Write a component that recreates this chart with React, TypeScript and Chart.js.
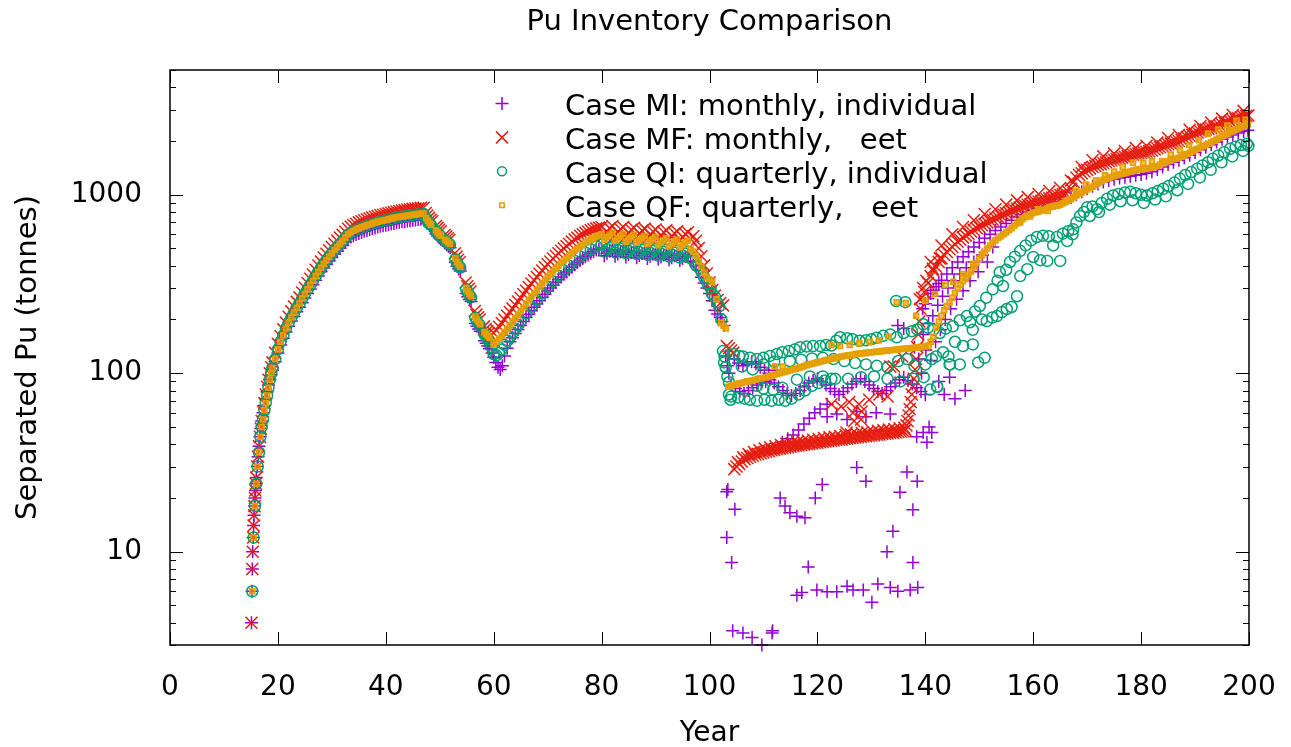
import React, { useEffect, useRef } from 'react';
import { Chart, registerables } from 'chart.js';

Chart.register(...registerables);

const chartTitle = 'Pu Inventory Comparison';
const xAxisTitle = 'Year';
const yAxisTitle = 'Separated Pu (tonnes)';
const legendLabels = [
  'Case MI: monthly, individual',
  'Case MF: monthly,   eet',
  'Case QI: quarterly, individual',
  'Case QF: quarterly,   eet',
];
const xTickValues = [0, 20, 40, 60, 80, 100, 120, 140, 160, 180, 200];
const yTickValues = [10, 100, 1000];

// Case MI: monthly, individual  [year, tonnes]
const miPoints: [number, number][] = [
  [15.1,4],[15.2,6],[15.25,8],[15.33,10],[15.42,12],[15.5,14],[15.58,16],[15.67,18],[15.75,20],[15.83,22],[15.92,24],[16,26],[16.17,30],[16.33,34],[16.5,39],[16.67,44],[16.83,49],[17,54],[17.25,60],[17.5,66],[17.75,72],[18,79],[18.25,86],[18.5,92],[18.75,98],
  [19,104],[19.5,116],[20,130],[20.5,144],[21,157],[21.5,170],[22,183],[22.5,196],[23,208],[23.5,221],[24,234],[24.5,248],[25,264],[25.5,280],[26,296],[26.5,313],[27,332],[27.5,350],[28,370],[28.5,389],[29,407],[29.5,426],[30,445],[30.5,465],[31,483],[31.5,502],[32,520],[32.5,543],[33,566],[33.5,580],[34,590],[34.5,598],[35,607],[35.5,615],[36,624],[36.5,631],[37,638],[37.5,645],[38,652],[38.5,659],[39,665],[39.5,670],[40,675],[40.5,680],[41,685],[41.5,691],[42,697],[42.5,701],[43,705],[43.5,708],[44,712],[44.5,716],[45,720],[45.5,723],[46,727],[46.5,729],[47,732],
  [47.5,712],[47.8,690],[48.1,670],[48.4,655],[48.7,642],[49.3,602],[49.6,588],[49.9,575],[50.2,565],[51,535],[51.3,525],[51.6,515],[51.9,505],[52.9,418],[53.2,398],[53.5,384],[53.8,374],[54.9,280],[55.2,268],[55.5,259],[55.8,252],[56.6,190],[56.9,183],[57.2,177],[57.5,172],[58.3,152],[58.6,147],[58.9,142],[59.2,137],[59.7,130],[60,123],[60.4,115],[60.8,108],[61.2,105],[61.6,110],[62,125],[62.5,138],
  [63,150],[63.5,158],[64,167],[64.5,176],[65,185],[65.5,195],[66,205],[66.5,214],[67,224],[67.5,234],[68,244],[68.5,255],[69,266],[69.5,277],[70,289],[70.5,300],[71,311],[71.5,323],[72,335],[72.5,346],[73,358],[73.5,369],[74,380],[74.5,392],[75,405],[75.5,416],[76,428],[76.5,439],[77,450],[77.5,460],[78,470],[78.5,480],[79,490],[79.5,496],[80,502],
  [80.5,455],[81,470],[81.5,482],[82,492],[82.5,452],[83,466],[83.5,478],[84,488],[84.5,448],[85,462],[85.5,474],[86,484],[86.5,444],[87,457],[87.5,469],[88,480],[88.5,440],[89,452],[89.5,464],[90,475],[90.5,436],[91,448],[91.5,460],[92,470],[92.5,432],[93,444],[93.5,455],[94,466],[94.5,428],[95,440],[95.5,451],[96,462],[96.5,424],[97,420],
  [97.5,400],[98,380],[98.5,345],[99,320],[99.5,300],[100,280],[100.5,255],[101,225],[101.5,215],[102,205],[102.3,195],[102.7,185],[103,125],[103.3,110],[103.6,100],
  [104.6,120],[105.4,114],[106.2,110],[107,112],[107.8,116],[108.6,113],[109.4,108],[110.2,104],[111,100],[112,104],[134.9,185],[136,178],
  [104,86],[104.8,82],[105.6,79],[106.4,77],[107.2,80],[108,83],[108.8,86],[109.6,88],[110.4,90],[111.2,92],[112,88],[112.8,84],[113.6,80],[114.4,77],[115.2,75],[116,77],[116.8,80],[117.6,84],[118.4,88],[119.2,91],[120,93],[120.8,90],[121.6,86],[122.4,82],[123.2,79],[124,76],[124.8,79],[125.6,83],[126.4,87],[127.2,90],[128,93],[128.8,90],[129.6,86],[130.4,82],[131.2,79],[132,77],[132.8,80],[133.6,84],[134.4,88],[135.2,92],[136,95],[136.8,91],[137.6,87],[138.4,83],[139.2,79],[140,76],
  [113.5,41],[114.5,43],[115.5,45],[116.5,48],[117.5,52],[118.5,56],[119.5,60],[120.5,63],[121.8,67],[121.8,57],[123.6,59],[125.5,55],[127.3,61],[129,57],[130.9,60],[133.5,59],[138.4,44],[139.6,46.5],[140.7,50],[141.2,46.5],[140.3,41],
  [103.2,21.7],[103.4,22.3],[104.7,17.3],[103.2,12],[104.1,8.7],[104.3,3.6],[106.2,3.5],[107.9,3.3],[109.7,3.0],[111.6,3.5],[111.7,3.6],[113.1,20],[114,18],[114.9,16.5],[116.2,15.8],[117.7,15.5],[119.6,20],[120.9,23.8],[118.3,8.2],[116.2,5.7],[117.1,5.9],[119.9,6.1],[121.8,5.96],[123.6,5.96],[125.5,6.4],[126.6,6.1],[128.5,6.1],[130.1,5.2],[131.2,6.6],[133.5,6.3],[134.9,6.0],[137.2,6.1],[138.6,6.3],[127.3,29.6],[129,24.8],[132.9,10],[134,13],[135.3,21.5],[136.6,28],[138.5,24.8],[137.7,17.2],[137.7,8.7],
  [138,140],[138.8,120],[139.3,100],[139.6,165],[140.1,135],[140.6,190],[141,118],[141.4,210],[141.9,150],[142.3,240],[142.8,175],[143.2,270],[143.7,200],[144.2,300],[144.7,230],[145.3,330],[145.8,260],[146.4,360],[147,290],[147.6,390],[148.3,330],[149,420],[149.8,370],[150.6,460],[151.5,420],[152.5,510],[142.5,90],[143.5,76],[144.5,95],[145.5,72],[147.4,80],
  [139.5,230],[140,245],[140.5,262],[141,280],[141.5,292],[142,305],[142.5,318],[143,332],[144,360],[145,390],[146,420],[147,450],[148,480],[149,510],[150,540],[151,570],[152,600],[153,630],[154,660],[155,690],[156,720],[157,750],[158,775],[159,798],[160,818],[161,838],[162,858],[163,878],[164,898],[165,918],[166,940],[167,965],[168,1000],[169,1040],[170,1080],[171,1115],[172,1150],[173,1180],[174,1200],[175,1220],[176,1240],[177,1255],[178,1270],[179,1285],[180,1300],[181,1320],[182,1345],[183,1385],[184,1430],[185,1475],[186,1520],[187,1560],[188,1610],[189,1665],[190,1725],[191,1785],[192,1845],[193,1905],[194,1975],[195,2045],[196,2105],[197,2165],[198,2215],[199,2265],[199.8,2300],
];

// Case MF: monthly, fleet
const mfPoints: [number, number][] = [
  [15.1,4],[15.25,8],[15.33,10],[15.42,12],[15.5,14],[15.58,16],[15.67,18],[15.75,20],[15.83,22],[15.92,24],[16,26],[16.17,30],[16.33,34],[16.5,39],[16.67,44],[16.83,49],[17,54],[17.25,61],[17.5,68],[17.75,76],[18,84],[18.25,92],[18.5,100],[18.75,108],
  [19,115],[19.5,130],[20,146],[20.5,161],[21,176],[21.5,192],[22,207],[22.5,222],[23,236],[23.5,251],[24,266],[24.5,283],[25,301],[25.5,320],[26,338],[26.5,357],[27,380],[27.5,401],[28,422],[28.5,445],[29,467],[29.5,488],[30,510],[30.5,531],[31,553],[31.5,575],[32,596],[32.5,621],[33,645],[33.5,662],[34,676],[34.5,688],[35,700],[35.5,710],[36,719],[36.5,728],[37,736],[37.5,744],[38,752],[38.5,760],[39,767],[39.5,773],[40,780],[40.5,786],[41,792],[41.5,799],[42,806],[42.5,811],[43,815],[43.5,820],[44,826],[44.5,830],[45,833],[45.5,837],[46,841],[46.5,844],[47,846],
  [47.4,790],[47.7,765],[48,742],[48.3,725],[48.6,710],[49.3,668],[49.6,652],[49.9,637],[50.2,624],[50.9,595],[51.2,583],[51.5,571],[51.8,560],[52.8,470],[53.1,449],[53.4,432],[53.7,419],[54.8,322],[55.1,307],[55.4,297],[55.7,287],[56.5,223],[56.8,213],[57.1,206],[57.4,200],[58.2,183],[58.5,177],[58.8,172],[59.1,168],[59.5,163],
  [60,168],[60.5,174],[61,182],[61.5,191],[62,200],[62.5,210],[63,220],[63.5,230],[64,241],[64.5,252],[65,264],[65.5,277],[66,290],[66.5,304],[67,318],[67.5,332],[68,346],[68.5,361],[69,376],[69.5,392],[70,408],[70.5,423],[71,439],[71.5,455],[72,470],[72.5,485],[73,500],[73.5,515],[74,530],[74.5,546],[75,562],[75.5,575],[76,589],[76.5,601],[77,612],[77.5,622],[78,632],[78.5,640],[79,648],[79.5,654],[80,660],
  [80.5,595],[81,622],[81.5,650],[82,668],[82.5,590],[83,617],[83.5,643],[84,660],[84.5,585],[85,611],[85.5,637],[86,653],[86.5,579],[87,605],[87.5,630],[88,646],[88.5,573],[89,598],[89.5,623],[90,639],[90.5,567],[91,592],[91.5,616],[92,632],[92.5,561],[93,585],[93.5,609],[94,625],[94.5,555],[95,579],[95.5,602],[96,617],[96.5,565],
  [97,585],[97.5,552],[98,502],[98.5,452],[99,402],[99.5,362],[100,322],[100.5,292],[101,272],[101.5,257],[102,247],[102.5,240],[103.2,142],[103.6,138],[104,134],[104.4,130],
  [104.6,29],[105,30],[105.5,31],[106,32],[106.5,33],[107,33.5],[107.5,34],[108,34.5],[108.5,35],[109,35.3],[109.5,35.6],[110,36],[110.5,36.3],[111,36.6],[111.5,37],[112,37.2],[112.5,37.5],[113,37.8],[113.5,38],[114,38.3],[114.5,38.5],[115,38.7],[115.5,39],[116,39.2],[116.5,39.4],[117,39.6],[117.5,39.8],[118,40],[118.5,40.2],[119,40.4],[119.5,40.6],[120,40.8],[120.5,41],[121,41.2],[121.5,41.4],[122,41.6],[122.5,41.8],[123,42],[123.5,42.2],[124,42.4],[124.5,42.6],[125,42.8],[125.5,43],[126,43.2],[126.5,43.4],[127,43.6],[127.5,43.8],[128,44],[128.5,44.2],[129,44.4],[129.5,44.6],[130,44.8],[130.5,45],[131,45.2],[131.5,45.4],[132,45.6],[132.5,45.8],[133,46],[133.5,46.2],[134,46.4],[134.5,46.6],[135,46.8],[135.5,47],[136,47.2],
  [105.25,31.8],[106.25,33.8],[107.25,35.2],[108.25,36.2],[109.25,37],[110.25,37.8],[111.25,38.4],[112.25,39],[113.25,39.6],[114.25,40.2],[115.25,40.6],[116.25,41.1],[117.25,41.6],[118.25,42],[119.25,42.4],[120.25,42.8],[121.25,43.3],[122.25,43.7],[123.25,44.1],[124.25,44.5],[125.25,45],[126.25,45.4],[127.25,45.8],[128.25,46.2],[129.25,46.6],[130.25,47.1],[131.25,47.5],[132.25,47.9],[133.25,48.3],[134.25,48.7],[135.25,49.1],[136.1,49.5],
  [136.3,48],[136.5,51],[136.7,54],[136.9,58],[137.1,63],[137.3,69],[137.5,76],[137.7,84],[137.9,93],[138.1,105],[138.3,120],[138.5,140],[138.7,165],[138.9,195],[139.1,230],[139.4,265],
  [122.6,67],[124.4,65],[125.9,69],[127.7,67],[128.2,61],[128.1,55],[129.6,71],[131.5,76],[133,74],[134.2,109],[135.7,124],[133.5,109],[126.6,60],[126.8,54],[125.4,46.5],
  [139,260],[139.6,300],[140.2,330],[141.4,385],[142.7,440],
  [139.8,285],[140.5,320],[141,350],[141.5,375],[142,395],[142.5,420],[143,440],[143.5,460],[144,478],[144.5,495],[145,510],[145.5,528],[146,545],[146.5,560],[147,575],[147.5,590],[148,605],[148.5,620],[149,635],[149.5,650],[150,662],[150.5,675],[151,688],[151.5,700],[152,712],[152.5,725],[153,738],[153.5,750],[154,762],[154.5,775],[155,788],[155.5,800],[156,812],[156.5,824],[157,836],[157.5,848],[158,858],[158.5,868],[159,878],[159.5,888],[160,898],[160.5,907],[161,916],[161.5,925],[162,934],[162.5,944],[163,954],[163.5,964],[164,975],[164.5,986],[165,997],[165.5,1008],[166,1020],[166.5,1040],[167,1080],[167.5,1180],[168,1250],[168.5,1290],[169,1320],[169.5,1350],[170,1380],[170.5,1405],[171,1430],[171.5,1450],[172,1470],[172.5,1485],[173,1500],[173.5,1520],[174,1540],[174.5,1555],[175,1570],[175.5,1585],[176,1600],[176.5,1615],[177,1630],[177.5,1645],[178,1660],[178.5,1675],[179,1690],[179.5,1705],[180,1720],[180.5,1730],[181,1740],[181.5,1755],[182,1770],[182.5,1795],[183,1820],[183.5,1845],[184,1870],[184.5,1895],[185,1920],[185.5,1940],[186,1960],[186.5,1980],[187,2000],[187.5,2035],[188,2070],[188.5,2105],[189,2140],[189.5,2170],[190,2200],[190.5,2230],[191,2260],[191.5,2290],[192,2320],[192.5,2340],[193,2360],[193.5,2390],[194,2420],[194.5,2450],[195,2480],[195.5,2515],[196,2550],[196.5,2585],[197,2620],[197.5,2650],[198,2680],[198.5,2710],[199,2740],[199.5,2765],[199.9,2780],
  [141,420],[143,520],[145,600],[147,660],[149,720],[151,780],[153,830],[155,880],[157,930],[159,970],[161,1010],[163,1050],[165,1090],[167,1200],[169,1430],[171,1560],[173,1640],[175,1700],[177,1760],[179,1830],[181,1880],[183,1960],[185,2080],[187,2160],[189,2310],[191,2430],[193,2540],[195,2670],[197,2800],[199,2950],
];

// Case QI: quarterly, individual
const qiPoints: [number, number][] = [
  [15.25,6],[15.5,12],[15.75,18],[16,24],[16.25,30],[16.5,36],[16.75,44],[17,50],[17.25,55],[17.5,62],[17.75,68],[18,75],[18.25,83],[18.5,92],[18.75,100],[19,107],[19.5,120],[20,136],[20.5,150],[21,163],[21.5,178],[22,192],[22.5,205],[23,218],[23.5,232],[24,246],[24.5,262],[25,278],[25.5,295],[26,312],[26.5,330],[27,350],[27.5,370],[28,390],[28.5,410],[29,430],[29.5,450],[30,470],[30.5,490],[31,510],[31.5,530],[32,550],[32.5,575],[33,598],[34,625],[35,645],[36,662],[37,678],[38,694],[39,708],[40,718],[41,730],[42,744],[43,752],[44,760],[45,768],[46,776],[47,780],
  [47.5,735],[47.8,712],[48.1,692],[48.4,676],[49.3,625],[49.6,610],[49.9,596],[50.2,585],[51,555],[51.3,545],[51.6,535],[51.9,525],[52.9,435],[53.2,415],[53.5,400],[53.8,390],[54.9,296],[55.2,284],[55.5,274],[55.8,266],[56.6,204],[56.9,196],[57.2,189],[57.5,184],[58.3,165],[58.6,160],[58.9,155],[59.2,150],[59.6,140],
  [60,128],[60.5,126],[61,130],[61.5,136],[62,144],[62.5,152],[63,160],[63.5,168],[64,177],[64.5,186],[65,196],[66,216],[67,236],[68,257],[69,280],[70,304],[71,327],[72,352],[73,377],[74,400],[75,427],[76,451],[77,473],[78,495],[79,515],[80,528],
  [80.5,480],[81,495],[81.5,505],[82,515],[82.5,475],[83,490],[83.5,500],[84,510],[84.5,470],[85,485],[85.5,495],[86,505],[86.5,465],[87,478],[87.5,490],[88,500],[88.5,460],[89,472],[89.5,484],[90,495],[90.5,455],[91,467],[91.5,478],[92,490],[92.5,450],[93,462],[93.5,473],[94,484],[94.5,445],[95,456],[95.5,467],[96,478],[96.5,440],[97,430],
  [97.6,400],[98.2,385],[98.6,365],[99,345],[99.6,320],[100.2,300],[100.5,278],[101,268],[101.4,250],[101.8,237],[102.2,200],[102.5,133],[102.8,124],[102.7,115],[103,108],[103.3,96],[103.6,89],[103.6,76],[103.9,71],
  [104.5,128],[105.5,125],[106.2,124],[107.5,122],[108.8,120],[110,122],[111.2,125],[112.5,128],[113.5,131],[114.7,133],[115.8,136],[116.8,140],[118,141],[119.2,142],[120.5,142],[121.6,144],[122.6,143],[123.5,152],[124.2,159],[125.5,157],[126.5,155],[127.8,152],[129,153],[130,155],[131,158],[132.2,162],[133.5,165],[134.7,159],[136,168],[137.5,172],[138.5,176],
  [134.6,254],[136.3,250],
  [106,109],[108,105],[110,112],[112,116],[114.9,117],[117,119],[119,121],[121,122],[123,120],[125,117],[127,114],[129,112],[131,110],[133,108],[135,117],[136.6,120],[138,110],[140,112],[142,124],[144.5,112],[144.3,124],
  [108.8,85],[110,82],[111.8,81],[113.5,83],[116.2,92],[118.6,96],[121,96],[123.3,93],[125.7,93],[128.1,95],[130.5,96],[133,93],[135.4,90],[137.8,93],[139.7,95],[140.9,81],[142.2,84],
  [104,74],[105.3,73],[106.5,72],[107.5,71],[108.8,70],[110.2,71],[111.5,70],[112.8,71],[114,70],[115.2,72],[116.5,76],[117.7,80],[119,85],[120.2,88],[121.4,91],[122.6,93],
  [139.6,188],[140.5,180],[141.5,175],[142.7,168],[143.8,178],[145.1,183],[146.4,198],[147.7,209],[148.3,193],[149.2,222],[150.1,238],[151.3,265],[152.5,295],[153.4,330],[154.4,308],[155,380],[155.7,420],[156.6,450],[157.6,485],[158.6,520],[159.6,555],[160.7,580],[161.8,590],[162.9,585],[164.4,580],[165.5,605],[166.5,625],[167.4,640],[168,700],[168.7,760],[169.4,800],[170,850],[171,860],[171.8,830],[172.7,900],[173.7,950],[174.8,990],[175.8,1010],[177,1030],[178,1040],[179,1020],[180,1000],[181.1,990],[182.1,1020],[183.1,1050],[184.1,1080],[185.1,1120],[186.2,1170],[187.2,1230],[188.2,1290],[189.3,1340],[190.4,1400],[191.4,1460],[192.4,1520],[193.3,1590],[194.3,1660],[195.4,1730],[196.5,1810],[197.5,1860],[198.5,1900],[199.6,1930],
  [170.5,760],[172.2,800],[174.2,880],[176.2,920],[178.4,930],[180.5,900],[182.6,940],[184.6,980],[186.7,1060],[188.7,1150],[190.9,1250],[192.9,1380],[194.9,1520],[196.9,1640],[198.9,1760],[199.9,1880],
  [141.2,120],[142.2,84],[143.3,131],[144.6,112],[146.4,112],[147,142],[148.8,145],[149.8,115],[151,122],[151.4,196],[152.4,205],[153.3,209],[154.2,220],[155.1,229],[156,235],[157,270],[157.6,350],[158.9,383],[160,448],[161.3,430],[162.6,426],[163.7,520],[165,426],[166.3,550],[167.3,600],
  [145.5,150],[148.8,175],[150.5,200],[153.8,368],
];

// Case QF: quarterly, fleet
const qfPoints: [number, number][] = [
  [15.25,6],[15.5,12],[15.75,18],[16,24],[16.25,30],[16.5,36],[16.75,44],[17,50],[17.25,55],[17.5,62],[17.75,68],[18,75],[18.25,83],[18.5,92],[18.75,100],[19,107],[19.5,120],[20,136],[20.5,150],[21,163],[21.5,178],[22,192],[22.5,205],[23,218],[23.5,232],[24,246],[24.5,262],[25,278],[25.5,295],[26,312],[26.5,330],[27,350],[27.5,370],[28,390],[28.5,410],[29,430],[29.5,450],[30,470],[30.5,490],[31,510],[31.5,530],[32,550],[32.5,575],[33,600],[33.5,615],[34,628],[34.5,638],[35,648],[35.5,657],[36,665],[36.5,674],[37,682],[37.5,690],[38,698],[38.5,705],[39,712],[39.5,717],[40,722],[40.5,728],[41,735],[41.5,742],[42,748],[42.5,752],[43,756],[43.5,760],[44,765],[44.5,768],[45,772],[45.5,776],[46,780],[46.5,783],[47,785],
  [47.5,740],[47.8,715],[48.1,695],[48.4,680],[49.3,630],[49.6,615],[49.9,600],[50.2,590],[51,560],[51.3,550],[51.6,540],[51.9,530],[52.9,440],[53.2,420],[53.5,405],[53.8,395],[54.9,300],[55.2,288],[55.5,278],[55.8,270],[56.6,208],[56.9,200],[57.2,193],[57.5,188],[58.3,170],[58.6,166],[58.9,162],[59.2,158],
  [60,145],[60.5,150],[61,156],[61.5,162],[62,170],[62.5,177],[63,185],[63.5,194],[64,203],[64.5,212],[65,222],[65.5,232],[66,245],[66.5,257],[67,268],[67.5,280],[68,292],[68.5,305],[69,318],[69.5,331],[70,345],[70.5,358],[71,372],[71.5,386],[72,400],[72.5,414],[73,428],[73.5,441],[74,455],[74.5,470],[75,485],[75.5,498],[76,512],[76.5,525],[77,538],[77.5,550],[78,562],[78.5,574],[79,585],[79.5,593],[80,600],
  [80.5,560],[81,578],[81.5,596],[82,612],[82.5,552],[83,570],[83.5,588],[84,604],[84.5,545],[85,562],[85.5,580],[86,596],[86.5,538],[87,555],[87.5,572],[88,588],[88.5,530],[89,547],[89.5,563],[90,580],[90.5,522],[91,538],[91.5,555],[92,570],[92.5,515],[93,530],[93.5,546],[94,562],[94.5,507],[95,522],[95.5,538],[96,552],[96.5,500],
  [97,480],[97.5,455],[98,425],[98.5,395],[99,365],[99.5,345],[100,335],[100.5,325],[101.3,260],[102.2,192],[102.6,184],[103,178],
  [103.5,84],[104,85],[104.5,86],[105,87],[105.5,87.5],[106,88],[106.5,89],[107,90],[107.5,90.5],[108,91],[108.5,92],[109,93],[109.5,93.5],[110,94],[110.5,95],[111,96],[111.5,97],[112,98],[112.5,99],[113,100],[113.5,101],[114,102],[114.5,103],[115,104],[115.5,105],[116,106],[116.5,107],[117,108],[117.5,109.5],[118,111],[118.5,112],[119,113],[119.5,114],[120,115],[120.5,116],[121,117],[121.5,118],[122,119],[122.5,120],[123,121],[123.5,122],[124,123],[124.5,124],[125,125],[125.5,125.5],[126,126],[126.5,127],[127,128],[127.5,128.5],[128,129],[128.5,129.5],[129,130],[129.5,130.5],[130,131],[130.5,131.5],[131,132],[131.5,132.5],[132,133],[132.5,133.5],[133,134],[133.5,134.5],[134,135],[134.5,135.5],[135,136],[135.5,136.5],[136,137],[136.5,137.5],[137,138],[137.5,138.5],[138,139],[138.5,139.5],[139,140],[139.5,140.5],[140,141],[140.6,143],
  [112.1,109],[113.6,109],[122.6,144],[124.2,142],[126,144],[127.8,147],[129.7,150],[131.4,153],[133.2,160],[134.7,250],[136.4,247],[138.3,210],[140,255],[141.8,278],[143.7,312],[145.2,325],[147,360],[148.9,410],[150.5,465],
  [141,150],[141.5,160],[142,180],[142.5,195],[143,210],[143.5,225],[144,238],[144.5,250],[145,265],[145.5,282],[146,298],[146.5,313],[147,328],[147.5,343],[148,357],[148.5,372],[149,392],[149.5,415],[150,438],[150.5,458],[151,478],[151.5,500],[152,520],[152.5,538],[153,555],[153.5,572],[154,585],[154.5,600],[155,615],[155.5,632],[156,650],[156.5,670],[157,690],[157.5,710],[158,730],[158.5,748],[159,765],[159.5,778],[160,790],[160.5,798],[161,805],[161.5,815],[162,825],[162.5,838],[163,850],[163.5,858],[164,865],[164.5,872],[165,880],[165.5,895],[166,910],[166.5,928],[167,945],[167.5,968],[168,990],[168.5,1010],[169,1030],[169.5,1050],[170,1070],[170.5,1090],[171,1110],[171.5,1135],[172,1160],[172.5,1185],[173,1210],[173.5,1225],[174,1240],[174.5,1255],[175,1270],[175.5,1285],[176,1300],[176.5,1310],[177,1320],[177.5,1335],[178,1350],[178.5,1365],[179,1380],[179.5,1385],[180,1390],[180.5,1395],[181,1400],[181.5,1410],[182,1420],[182.5,1435],[183,1450],[183.5,1475],[184,1500],[184.5,1520],[185,1540],[185.5,1560],[186,1580],[186.5,1595],[187,1610],[187.5,1635],[188,1660],[188.5,1690],[189,1720],[189.5,1750],[190,1780],[190.5,1810],[191,1840],[191.5,1870],[192,1900],[192.5,1930],[193,1960],[193.5,2000],[194,2040],[194.5,2080],[195,2120],[195.5,2160],[196,2200],[196.5,2240],[197,2280],[197.5,2315],[198,2350],[198.5,2385],[199,2420],[199.5,2460],[199.8,2480],
  [157.6,700],[159.4,755],[160.9,830],[162.7,810],[164.4,870],[166.2,925],[167.9,1050],
  [169.8,1140],[171.6,1200],[173.3,1285],[175,1350],[176.6,1430],[178.5,1510],[180.4,1510],[182,1540],[183.9,1540],[185.5,1680],[187.2,1780],[188.9,1900],[190.7,2020],[192.4,2200],[194.3,2320],[196,2440],[197.7,2600],[199.4,2630],
];

const FONT = '"DejaVu Sans", "Liberation Sans", sans-serif';
const COLORS = ['#9400d3', '#e51e10', '#009e73', '#e69f00'];

function drawSymbol(ctx: CanvasRenderingContext2D, kind: number, x: number, y: number) {
  ctx.save();
  ctx.strokeStyle = COLORS[kind];
  ctx.lineWidth = 1.5;
  ctx.beginPath();
  if (kind === 0) {
    ctx.moveTo(x - 6.5, y); ctx.lineTo(x + 6.5, y);
    ctx.moveTo(x, y - 6.5); ctx.lineTo(x, y + 6.5);
  } else if (kind === 1) {
    ctx.moveTo(x - 6, y - 6); ctx.lineTo(x + 6, y + 6);
    ctx.moveTo(x + 6, y - 6); ctx.lineTo(x - 6, y + 6);
  } else if (kind === 2) {
    ctx.arc(x, y, 4.5, 0, Math.PI * 2);
  } else {
    ctx.rect(x - 2.2, y - 2.2, 4.4, 4.4);
  }
  ctx.stroke();
  ctx.restore();
}

const decorPlugin = {
  id: 'gnuDecor',
  afterDatasetsDraw(chart: any) {
    const { ctx, chartArea: a, scales } = chart;
    const xs = scales.x;
    const ys = scales.y;
    ctx.save();
    ctx.strokeStyle = '#000';
    ctx.lineWidth = 1;
    ctx.beginPath();
    for (const v of xTickValues) {
      const px = Math.round(xs.getPixelForValue(v)) + 0.5;
      ctx.moveTo(px, a.bottom); ctx.lineTo(px, a.bottom - 13);
      ctx.moveTo(px, a.top); ctx.lineTo(px, a.top + 13);
    }
    for (let dec = 1; dec <= 1000; dec *= 10) {
      for (let m = 1; m <= 9; m++) {
        const v = m * dec;
        if (v < 3 || v > 5000) continue;
        const len = m === 1 ? 13 : 6;
        const py = Math.round(ys.getPixelForValue(v)) + 0.5;
        ctx.moveTo(a.left, py); ctx.lineTo(a.left + len, py);
        ctx.moveTo(a.right, py); ctx.lineTo(a.right - len, py);
      }
    }
    ctx.stroke();
    ctx.lineWidth = 1.5;
    ctx.strokeRect(a.left, a.top, a.right - a.left, a.bottom - a.top);

    ctx.fillStyle = '#000';
    ctx.font = `29px ${FONT}`;
    ctx.textAlign = 'left';
    ctx.textBaseline = 'alphabetic';
    legendLabels.forEach((label, i) => {
      const base = 115 + i * 33.9;
      drawSymbol(ctx, i, 502, base - 11.5);
      ctx.fillText(label, 565, base);
    });

    ctx.textAlign = 'center';
    ctx.font = `29px ${FONT}`;
    ctx.fillText(chartTitle, (a.left + a.right) / 2, 30);
    ctx.font = `28px ${FONT}`;
    ctx.fillText(xAxisTitle, (a.left + a.right) / 2, 741);
    ctx.save();
    ctx.translate(36, (a.top + a.bottom) / 2);
    ctx.rotate(-Math.PI / 2);
    ctx.font = `29px ${FONT}`;
    ctx.fillText(yAxisTitle, 0, 0);
    ctx.restore();
    ctx.restore();
  },
};

export default function App() {
  const canvasRef = useRef<HTMLCanvasElement | null>(null);

  useEffect(() => {
    document.body.style.margin = '0';
    const canvas = canvasRef.current;
    if (!canvas) return;
    const mk = (pts: [number, number][]) => pts.map(([x, y]) => ({ x, y }));
    const chart = new Chart(canvas, {
      type: 'scatter',
      data: {
        datasets: [
          {
            label: legendLabels[0], data: mk(miPoints), order: 4,
            pointStyle: 'cross', pointRadius: 6.5, pointBorderWidth: 1.5,
            borderColor: COLORS[0], backgroundColor: COLORS[0], showLine: false, clip: false,
          },
          {
            label: legendLabels[1], data: mk(mfPoints), order: 3,
            pointStyle: 'crossRot', pointRadius: 8.5, pointBorderWidth: 1.5,
            borderColor: COLORS[1], backgroundColor: COLORS[1], showLine: false, clip: false,
          },
          {
            label: legendLabels[2], data: mk(qiPoints), order: 2,
            pointStyle: 'circle', pointRadius: 5.5, pointBorderWidth: 1.5,
            borderColor: COLORS[2], backgroundColor: 'rgba(0,0,0,0)', showLine: false, clip: false,
          },
          {
            label: legendLabels[3], data: mk(qfPoints), order: 1,
            pointStyle: 'rect', pointRadius: 3.5, pointBorderWidth: 1.6,
            borderColor: COLORS[3], backgroundColor: 'rgba(230,159,0,0.65)', showLine: false, clip: false,
          },
        ],
      },
      options: {
        animation: false,
        responsive: false,
        devicePixelRatio: 1,
        layout: { padding: { left: 0, top: 70, right: 42, bottom: 0 } },
        plugins: {
          legend: { display: false },
          title: { display: false },
          tooltip: { enabled: false },
        },
        events: [],
        scales: {
          x: {
            type: 'linear',
            min: 0,
            max: 200,
            grid: { display: false },
            border: { display: false },
            afterFit: (s: any) => { s.height = 102; s.paddingLeft = 0; s.paddingRight = 0; },
            afterBuildTicks: (s: any) => { s.ticks = xTickValues.map((v) => ({ value: v })); },
            ticks: {
              autoSkip: false,
              maxRotation: 0,
              padding: 18,
              color: '#000',
              font: { family: FONT, size: 28 },
              callback: (v: any) => String(v),
            },
          },
          y: {
            type: 'logarithmic',
            min: 3,
            max: 5000,
            grid: { display: false },
            border: { display: false },
            afterFit: (s: any) => { s.width = 170; s.paddingTop = 0; s.paddingBottom = 0; },
            afterBuildTicks: (s: any) => { s.ticks = yTickValues.map((v) => ({ value: v })); },
            ticks: {
              autoSkip: false,
              padding: 20,
              color: '#000',
              font: { family: FONT, size: 28 },
              callback: (v: any) => String(v),
            },
          },
        },
      },
      plugins: [decorPlugin],
    });
    return () => chart.destroy();
  }, []);

  return (
    <div style={{ width: 1291, height: 747, background: '#fff' }}>
      <canvas ref={canvasRef} width={1291} height={747} />
    </div>
  );
}
